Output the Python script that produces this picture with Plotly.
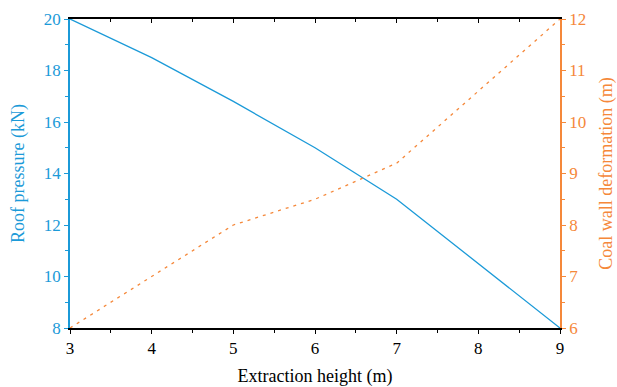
import plotly.graph_objects as go

extraction_height = [3, 4, 5, 6, 7, 8, 9]
roof_pressure = [20, 18.5, 16.8, 15, 13, 10.5, 8]
wall_deformation = [6, 7, 8, 8.5, 9.2, 10.6, 12]

BLUE = "#1B9AD8"
ORANGE = "#F5883A"
FONT = "Liberation Serif"
TICK = 17
TITLE = 18

fig = go.Figure()
fig.add_trace(go.Scatter(x=extraction_height, y=roof_pressure, mode="lines",
                         line=dict(color=BLUE, width=1.3), yaxis="y", showlegend=False))
fig.add_trace(go.Scatter(x=extraction_height, y=wall_deformation, mode="lines",
                         line=dict(color=ORANGE, width=1.3, dash="3px,5px"), yaxis="y2", showlegend=False))
# invisible trace for top axis
fig.add_trace(go.Scatter(x=[3, 9], y=[8, 20], mode="lines", line=dict(width=0), opacity=0,
                         xaxis="x2", yaxis="y", showlegend=False, hoverinfo="skip"))

fig.update_layout(
    width=617, height=387,
    margin=dict(l=70, r=57, t=19, b=59),
    plot_bgcolor="white", paper_bgcolor="white",
    font=dict(family=FONT, size=TICK, color="black"),
    xaxis=dict(range=[3, 9], dtick=1, showgrid=False, zeroline=False, automargin=False,
               showline=True, linecolor="black", linewidth=1.5,
               ticks="outside", ticklen=4, tickcolor="black",
               minor=dict(dtick=0.5, ticks="outside", ticklen=3, tickcolor="black"),
               title=dict(text="Extraction height (m)", font=dict(size=TITLE), standoff=13),
               tickfont=dict(size=TICK)),
    xaxis2=dict(range=[3, 9], dtick=1, overlaying="x", side="top", showgrid=False, zeroline=False,
                automargin=False,
                showline=True, linecolor="black", linewidth=1.5,
                ticks="inside", ticklen=4, tickcolor="black", showticklabels=False,
                minor=dict(dtick=0.5, ticks="inside", ticklen=3, tickcolor="black")),
    yaxis=dict(range=[8, 20], dtick=2, showgrid=False, zeroline=False, automargin=False,
               showline=True, linecolor=BLUE, linewidth=1.5,
               ticks="outside", ticklen=4, tickcolor=BLUE,
               minor=dict(dtick=1, ticks="outside", ticklen=3, tickcolor=BLUE),
               tickfont=dict(color=BLUE, size=TICK),
               title=dict(text="Roof pressure (kN)", font=dict(color=BLUE, size=TITLE), standoff=15)),
    yaxis2=dict(range=[6, 12], dtick=1, overlaying="y", side="right", showgrid=False, zeroline=False,
                automargin=False,
                showline=True, linecolor=ORANGE, linewidth=1.5,
                ticks="outside", ticklen=4, tickcolor=ORANGE,
                minor=dict(dtick=0.5, ticks="outside", ticklen=3, tickcolor=ORANGE),
                tickfont=dict(color=ORANGE, size=TICK),
                title=dict(text="Coal wall deformation (m)", font=dict(color=ORANGE, size=TITLE), standoff=16)),
)

fig.write_html("out.html", config={"displayModeBar": False},
               post_script="document.body.style.margin='0';document.body.style.overflow='hidden';")
